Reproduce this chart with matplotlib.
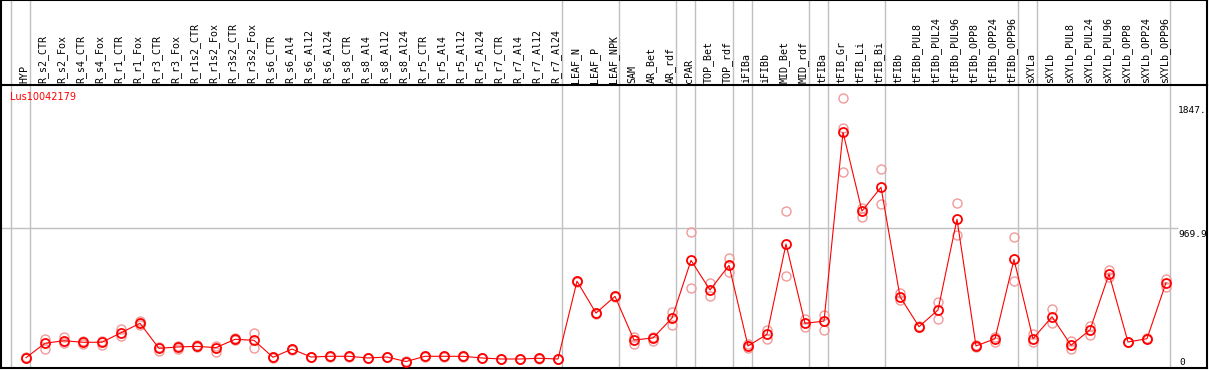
import matplotlib
matplotlib.use('Agg')
import matplotlib.pyplot as plt
import matplotlib.transforms as mtransforms

samples = ['HYP', 'R_s2_CTR', 'R_s2_Fox', 'R_s4_CTR', 'R_s4_Fox', 'R_r1_CTR', 'R_r1_Fox',
           'R_r3_CTR', 'R_r3_Fox', 'R_r1s2_CTR', 'R_r1s2_Fox', 'R_r3s2_CTR', 'R_r3s2_Fox',
           'R_s6_CTR', 'R_s6_Al4', 'R_s6_Al12', 'R_s6_Al24', 'R_s8_CTR', 'R_s8_Al4',
           'R_s8_Al12', 'R_s8_Al24', 'R_r5_CTR', 'R_r5_Al4', 'R_r5_Al12', 'R_r5_Al24',
           'R_r7_CTR', 'R_r7_Al4', 'R_r7_Al12', 'R_r7_Al24', 'LEAF_N', 'LEAF_P', 'LEAF_NPK',
           'SAM', 'AR_Bet', 'AR_rdf', 'cPAR', 'TOP_Bet', 'TOP_rdf', 'iFIBa', 'iFIBb',
           'MID_Bet', 'MID_rdf', 'tFIBa', 'tFIB_Gr', 'tFIB_Li', 'tFIB_Bi', 'tFIBb',
           'tFIBb_PUL8', 'tFIBb_PUL24', 'tFIBb_PUL96', 'tFIBb_OPP8', 'tFIBb_OPP24',
           'tFIBb_OPP96', 'sXYLa', 'sXYLb', 'sXYLb_PUL8', 'sXYLb_PUL24', 'sXYLb_PUL96',
           'sXYLb_OPP8', 'sXYLb_OPP24', 'sXYLb_OPP96']

means = [55, 157, 175, 164, 164, 231, 298, 121, 131, 135, 126, 185, 178,
         58, 116, 60, 65, 65, 53, 60, 28, 65, 65, 65, 53, 46, 46, 51, 46,
         595, 370, 488, 180, 194, 335, 742, 533, 707, 138, 220, 857, 298, 313,
         1646, 1090, 1258, 486, 274, 392, 1032, 138, 189, 749,
         189, 344, 143, 251, 646, 166, 189, 584]

rep_hi = [58, 185, 199, 175, 175, 255, 314, 133, 140, 147, 138, 194, 231,
          60, 120, 62, 68, 68, 56, 62, 31, 68, 68, 68, 56, 49, 49, 54, 49,
          598, 373, 491, 203, 203, 378, 940, 580, 757, 152, 251, 1088, 328, 356,
          1886, 1109, 1385, 510, 277, 448, 1145, 145, 203, 905,
          222, 397, 175, 279, 674, 169, 192, 608]

rep_lo = [50, 119, 157, 152, 145, 208, 286, 104, 119, 128, 97, 180, 126,
          55, 112, 57, 62, 62, 50, 57, 25, 62, 62, 62, 50, 43, 43, 48, 43,
          592, 367, 485, 152, 175, 286, 545, 490, 658, 124, 185, 630, 272, 251,
          1368, 1050, 1138, 462, 271, 326, 919, 133, 168, 594,
          168, 302, 119, 213, 627, 163, 186, 556]

rep_extra_idx = [43]
rep_extra_val = [1674]

group_ends = [-1, 0, 28, 31, 34, 35, 37, 38, 41, 42, 45, 52, 53, 60]
gene = 'Lus10042179'
y_marks = [1847, 969.9, 0]
y_texts = ['1847.', '969.9', '0']

W, H = 1209, 370
fig = plt.figure(figsize=(W / 100, H / 100), dpi=100)
fig.patch.set_facecolor('white')

x = list(range(len(samples)))
xlim = ((1 - 26) / 19, (1207 - 26) / 19)
grey = '#c0c0c0'

# header with sample names
axh = fig.add_axes([1 / W, 285 / H, 1206 / W, 85 / H])
axh.set_xlim(xlim)
axh.set_ylim(0, 85)
axh.set_xticks([])
axh.set_yticks([])
for s in ['left', 'right', 'top']:
    axh.spines[s].set_linewidth(1.5)
axh.spines['bottom'].set_visible(False)
for e in group_ends:
    axh.axvline(e + 0.2, color=grey, lw=1.0, zorder=1)
for i, name in enumerate(samples):
    axh.text(i - 0.1, 2, name, rotation=90, ha='center', va='bottom',
             family='DejaVu Sans Mono', fontsize=7.2, color='black')

# main plot
ax = fig.add_axes([1 / W, 2 / H, 1206 / W, 283 / H])
ax.set_xlim(xlim)
ax.set_ylim(-17.6, 1979.5)
ax.set_xticks([])
ax.set_yticks([])
for s in ax.spines.values():
    s.set_linewidth(1.5)
for e in group_ends:
    ax.axvline(e + 0.2, color=grey, lw=1.0, zorder=1)
ax.hlines(969.9, xlim[0], (1178 - 26) / 19, color=grey, lw=1.0, zorder=1)

ax.plot(x, rep_hi, 'o', mfc='none', mec='#f09a9a', ms=6.5, mew=1.0, zorder=2)
ax.plot(x, rep_lo, 'o', mfc='none', mec='#f09a9a', ms=6.5, mew=1.0, zorder=2)
ax.plot(rep_extra_idx, rep_extra_val, 'o', mfc='none', mec='#f09a9a', ms=6.5, mew=1.0, zorder=2)
ax.plot(x, means, '-', color='red', lw=0.8, zorder=3)
ax.plot(x, means, 'o', mfc='none', mec='red', ms=6.5, mew=1.3, zorder=4)

ax.text(9 / 1206, (368 - 97) / 283, gene, transform=ax.transAxes, color='red',
        fontsize=7, ha='left', va='center')

xt = (1178 - 26) / 19
off = mtransforms.offset_copy(ax.transData, fig=fig, x=0, y=-2, units='dots')
for v, t in zip(y_marks[:2], y_texts[:2]):
    ax.text(xt, v, t, transform=off, family='DejaVu Sans Mono', fontsize=6.8,
            ha='left', va='top', clip_on=True)
ax.text(xt + 0.05, 21, y_texts[2], family='DejaVu Sans Mono', fontsize=6.8,
        ha='left', va='center')

fig.savefig('out.png', dpi=100)
